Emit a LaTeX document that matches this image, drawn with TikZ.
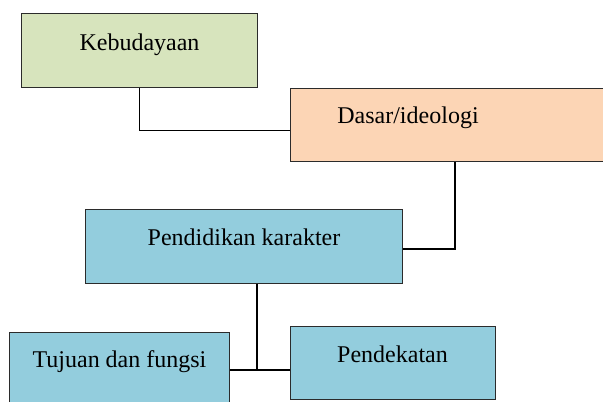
\documentclass[tikz,border=0pt]{standalone}
\usepackage{fontspec}
\setmainfont{Liberation Serif}
\definecolor{boxgreen}{HTML}{D7E4BD}
\definecolor{boxorange}{HTML}{FCD5B5}
\definecolor{boxblue}{HTML}{93CDDD}
\definecolor{edge}{HTML}{2B2B2B}
\begin{document}
\begin{tikzpicture}[x=1bp,y=-1bp,
  txt/.style={font=\fontsize{24bp}{28bp}\selectfont},
  box/.style={draw=edge,line width=1bp,rectangle,inner sep=0pt,txt},
  conn/.style={draw=black,line width=1.3bp}]
\useasboundingbox (0,0) rectangle (603,401);
\clip (0,0) rectangle (603,401);
% boxes (text height = baseline - top, text depth = bottom - baseline)
\node[box,fill=boxgreen,minimum width=235bp,text height=37bp,text depth=37bp,anchor=base] (keb) at (139.5,50) {Kebudayaan};
\node[box,fill=boxorange,minimum width=360bp,minimum height=73bp,anchor=north west] (dasar) at (290,88) {};
\node[txt,anchor=base,inner sep=0pt] (dasartxt) at (408,123) {Dasar/ideologi};
\node[box,fill=boxblue,minimum width=316bp,text height=36bp,text depth=38bp,anchor=base] (pend) at (244,245) {Pendidikan karakter};
\node[box,fill=boxblue,minimum width=219bp,text height=35bp,text depth=41bp,anchor=base] (tuj) at (119.5,367) {Tujuan dan fungsi};
\node[box,fill=boxblue,minimum width=205bp,text height=36bp,text depth=37bp,anchor=base] (pdk) at (392.5,362) {Pendekatan};
% connectors
\draw[conn] (keb.south) |- ([yshift=-5.5bp]dasar.west);
\draw[conn] ([xshift=165bp]dasar.south west) |- ([yshift=-3bp]pend.east);
\coordinate (junc) at ([xshift=13bp]pend.south |- tuj.east);
\draw[conn] ([xshift=13bp]pend.south) -- (junc);
\draw[conn] (tuj.east) -- (junc) -- (junc -| pdk.west);
\end{tikzpicture}
\end{document}
